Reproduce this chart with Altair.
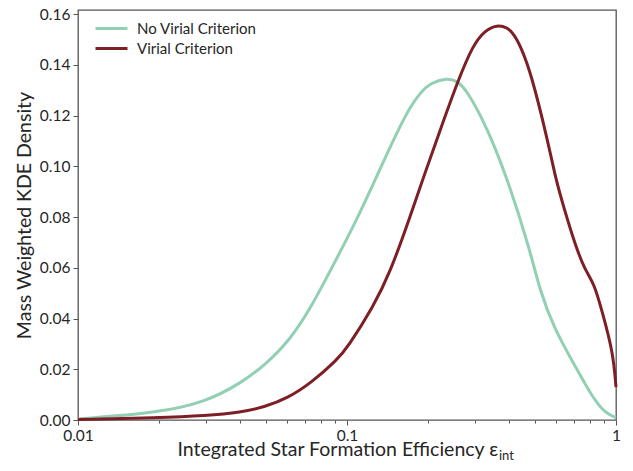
import altair as alt
import pandas as pd

# ---- data ----
no_virial_x = [0.01, 0.0198, 0.0299, 0.0404, 0.0496, 0.0614, 0.0735, 0.0815, 0.109, 0.136,
               0.157, 0.171, 0.187, 0.204, 0.235, 0.2565, 0.279, 0.331, 0.394, 0.478,
               0.521, 0.589, 0.705, 0.815, 0.918, 1.0]
no_virial_y = [0.0004, 0.0028, 0.0071, 0.0146, 0.0217, 0.0315, 0.0445, 0.0535, 0.0788, 0.1015,
               0.1155, 0.123, 0.129, 0.1328, 0.1348, 0.1337, 0.130, 0.1155, 0.0954, 0.0674,
               0.051, 0.036, 0.0213, 0.009, 0.0024, 0.001]

virial_x = [0.01, 0.0198, 0.0299, 0.0404, 0.0496, 0.0604, 0.0735, 0.0918, 0.1009, 0.125, 0.1445,
            0.171, 0.192, 0.222, 0.259, 0.294, 0.326, 0.361, 0.394, 0.418, 0.444, 0.483,
            0.558, 0.598, 0.641, 0.705, 0.767, 0.828, 0.887, 0.975, 1.0]
virial_y = [0.0002, 0.0009, 0.0017, 0.003, 0.0052, 0.0087, 0.0146, 0.0236, 0.0289, 0.0445, 0.058,
            0.0796, 0.0954, 0.1143, 0.134, 0.1478, 0.1536, 0.1557, 0.1548, 0.152, 0.1468, 0.1368,
            0.110, 0.0946, 0.0835, 0.069, 0.059, 0.054, 0.043, 0.0268, 0.013]

series_names = ["No Virial Criterion", "Virial Criterion"]
series_colors = ["#92d0b4", "#7d1f24"]

major_ticks = [0.01, 0.1, 1]
minor_ticks = [0.02, 0.03, 0.04, 0.05, 0.06, 0.07, 0.08, 0.09,
               0.2, 0.3, 0.4, 0.5, 0.6, 0.7, 0.8, 0.9]
y_ticks = [0.0, 0.02, 0.04, 0.06, 0.08, 0.10, 0.12, 0.14, 0.16]

x_title_main = "Integrated Star Formation Efficiency ε"
x_title_sub = "int"
y_title = "Mass Weighted KDE Density"

df = pd.concat([
    pd.DataFrame({"x": no_virial_x, "y": no_virial_y, "series": series_names[0], "k": 0}),
    pd.DataFrame({"x": virial_x, "y": virial_y, "series": series_names[1], "k": 1}),
], ignore_index=True)

FONT = "Lato"
TXT = "#262626"
W, H = 538, 410

xscale = alt.Scale(type="log", domain=[0.01, 1], nice=False)
yscale = alt.Scale(domain=[0, 0.16158], nice=False, zero=True)

yenc = alt.Y("y:Q", scale=yscale,
             axis=alt.Axis(values=y_ticks, format=".2f", title=y_title, grid=False,
                           domain=False, tickSize=5, tickColor="#555", tickWidth=1,
                           labelFont=FONT, labelFontSize=15.5, labelColor=TXT,
                           labelPadding=3, titleFont=FONT, titleFontSize=19.5,
                           titleFontWeight="normal", titleColor=TXT, titlePadding=5))

base = alt.Chart(df)

lines = base.mark_line(strokeWidth=3, interpolate="basis").encode(
    x=alt.X("x:Q", scale=xscale,
            axis=alt.Axis(values=major_ticks, format="~g", title=None, grid=False,
                          domain=False, tickSize=5, tickColor="#555", tickWidth=1,
                          labelFont=FONT, labelFontSize=15.5, labelColor=TXT,
                          labelPadding=3, labelFlush=False, orient="bottom")),
    y=yenc,
    color=alt.Color("series:N",
                    scale=alt.Scale(domain=series_names, range=series_colors),
                    legend=alt.Legend(title=None, orient="none", legendX=24, legendY=9,
                                      symbolType="M-2,0H2", symbolSize=256,
                                      symbolStrokeWidth=3, symbolFillColor="transparent",
                                      labelFont=FONT,
                                      labelFontSize=15, labelColor=TXT, labelOffset=16,
                                      rowPadding=2)),
    order=alt.Order("k:Q"),
)

minor = base.mark_line(opacity=0).encode(
    x=alt.X("x:Q", scale=xscale,
            axis=alt.Axis(values=minor_ticks, labels=False, title=None, grid=False,
                          domain=False, tickSize=3, tickColor="#555", tickWidth=1,
                          orient="bottom")),
    y=yenc,
    detail="series:N",
)

title_main = alt.Chart(pd.DataFrame({"t": [x_title_main]})).mark_text(
    font=FONT, fontSize=19.5, color=TXT, align="right", baseline="alphabetic"
).encode(x=alt.value(420), y=alt.value(446), text="t:N")

title_sub = alt.Chart(pd.DataFrame({"t": [x_title_sub]})).mark_text(
    font=FONT, fontSize=13, color=TXT, align="left", baseline="alphabetic"
).encode(x=alt.value(421), y=alt.value(450), text="t:N")

chart = alt.layer(minor, lines, title_main, title_sub).resolve_axis(x="independent").resolve_scale(x="shared").properties(
    width=W, height=H,
    autosize=alt.AutoSizeParams(type="none"),
    padding={"left": 70, "top": 2, "right": 9, "bottom": 43},
).configure_view(stroke="#555", strokeWidth=1.3)

chart.save("out.html", embed_options={"renderer": "svg", "actions": False})
